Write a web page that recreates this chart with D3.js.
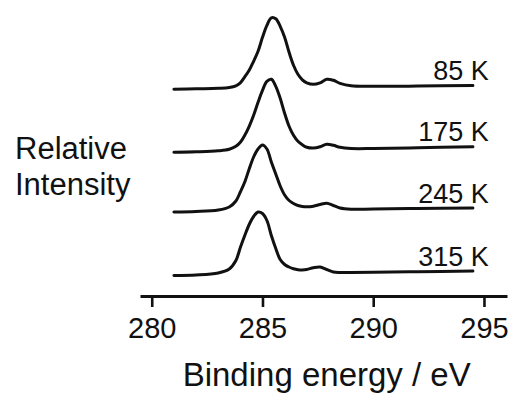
<!DOCTYPE html>
<html>
<head>
<meta charset="utf-8">
<script src="https://cdn.jsdelivr.net/npm/d3@7"></script>
<style>
  html, body { margin: 0; padding: 0; background: #fff; }
  svg { display: block; }
  text { font-family: "Liberation Sans", Arial, Helvetica, sans-serif; fill: #111; }
</style>
</head>
<body>
<svg id="chart" width="511" height="398"></svg>
<script>
// Binding energy grid (eV)
const energy = [281, 282, 283, 283.5, 283.8, 284.0, 284.2, 284.4, 284.6, 284.8,
                285.0, 285.2, 285.4, 285.6, 285.8, 286.0, 286.2, 286.4, 286.6, 286.8,
                287.0, 287.3, 287.6, 287.9, 288.2, 288.5, 289, 290, 292, 294.5];

// Relative intensities above each trace's own baseline
const int85 = [0, 0.5, 1.0, 1.8, 3.5, 6.5, 12.5, 19, 28, 38,
               52, 64, 71.5, 70.5, 63, 52, 37, 24, 15, 9.5,
               6.5, 5, 6.5, 10, 9, 6, 3.5, 3, 3.2, 3.8];
const int175 = [0, 0.5, 1.5, 3, 6, 10, 17, 26, 37, 50,
                62, 71, 73, 66, 54, 39, 26, 17, 11, 7.5,
                5, 4.2, 5.5, 8, 7, 5, 3.8, 3.8, 4.5, 5.6];
const int245 = [0, 0.5, 2, 5, 11, 20, 30, 43, 55, 63,
                67, 63, 50, 38, 26, 17, 11.5, 8.5, 6.5, 5.5,
                5.2, 5.8, 7.5, 8.7, 6.5, 4, 2.8, 3, 3.5, 4];
const int315 = [0, 0.5, 2.5, 6.5, 15, 28, 40, 51, 59, 63.5,
                62, 55, 40, 27, 16, 11, 8.5, 6.8, 5.8, 5.5,
                6, 7.8, 8.5, 6, 3.5, 3, 3, 3.2, 3.8, 4.5];

const seriesLabels = ["85 K", "175 K", "245 K", "315 K"];
const seriesValues = [int85, int175, int245, int315];
const seriesOffsets = [206.7, 143.7, 84, 20.5];

const xTicks = [280, 285, 290, 295];
const xTitle = "Binding energy / eV";
const yTitle = ["Relative", "Intensity"];

const svg = d3.select("#chart");

const x = d3.scaleLinear().domain([279.47, 296.04]).range([140, 507]);
const y = d3.scaleLinear().domain([0, 300]).range([296, -4]);

// x axis
const axis = d3.axisBottom(x)
  .tickValues(xTicks)
  .tickFormat(d3.format("d"))
  .tickSizeOuter(0)
  .tickSizeInner(11)
  .tickPadding(10);

const gx = svg.append("g")
  .attr("transform", `translate(0,${y(0)})`)
  .call(axis);
gx.select(".domain").attr("stroke", "#111").attr("stroke-width", 3);
gx.selectAll(".tick line").attr("stroke", "#111").attr("stroke-width", 2.6);
gx.selectAll(".tick text")
  .attr("fill", "#111")
  .style("font-family", "'Liberation Sans', Arial, sans-serif")
  .style("font-size", "29px");

// traces
const line = d3.line()
  .x(d => x(d[0]))
  .y(d => y(d[1]))
  .curve(d3.curveCatmullRom.alpha(0.5));

seriesValues.forEach((vals, i) => {
  const pts = energy.map((e, j) => [e, vals[j] + seriesOffsets[i]]);
  svg.append("path")
    .datum(pts)
    .attr("fill", "none")
    .attr("stroke", "#111")
    .attr("stroke-width", 3)
    .attr("stroke-linejoin", "round")
    .attr("stroke-linecap", "round")
    .attr("d", line);

  const last = vals[vals.length - 1] + seriesOffsets[i];
  svg.append("text")
    .attr("x", x(295.22))
    .attr("y", y(last + 5.5))
    .attr("text-anchor", "end")
    .style("font-size", "27px")
    .text(seriesLabels[i]);
});

// y title
svg.append("text")
  .attr("x", 15)
  .attr("y", 159)
  .style("font-size", "31px")
  .text(yTitle[0]);
svg.append("text")
  .attr("x", 15)
  .attr("y", 195)
  .style("font-size", "31px")
  .text(yTitle[1]);

// x title
svg.append("text")
  .attr("x", 326.7)
  .attr("y", 386)
  .attr("text-anchor", "middle")
  .style("font-size", "33px")
  .text(xTitle);
</script>
</body>
</html>
